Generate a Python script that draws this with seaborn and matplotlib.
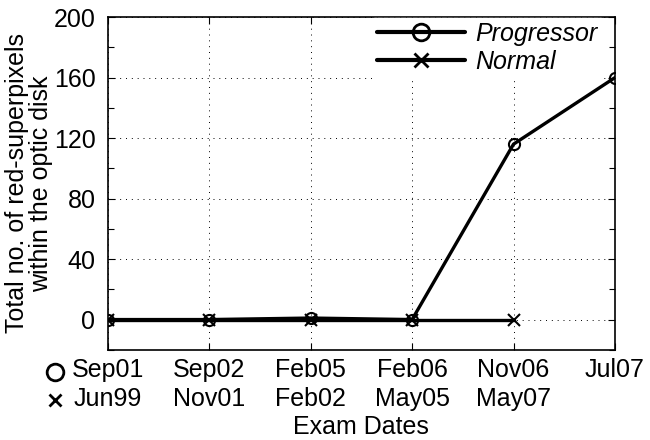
import matplotlib
matplotlib.use("Agg")
import matplotlib.pyplot as plt
import seaborn as sns
import pandas as pd

# data
progressor_dates = ['Sep01', 'Sep02', 'Feb05', 'Feb06', 'Nov06', 'Jul07']
normal_dates = ['Jun99', 'Nov01', 'Feb02', 'May05', 'May07']
progressor_vals = [0, 0, 1, 0, 116, 160]
normal_vals = [0, 0, 0, 0, 0]

sns.set_style("white")
plt.rcParams['font.family'] = ['Liberation Sans', 'DejaVu Sans']
plt.rcParams['text.color'] = 'black'
plt.rcParams['axes.labelcolor'] = 'black'
plt.rcParams['xtick.color'] = 'black'
plt.rcParams['ytick.color'] = 'black'

df = pd.concat([
    pd.DataFrame({'visit': range(len(progressor_vals)), 'count': progressor_vals, 'group': 'Progressor'}),
    pd.DataFrame({'visit': range(len(normal_vals)), 'count': normal_vals, 'group': 'Normal'}),
])

fig = plt.figure(figsize=(6.5, 4.4), dpi=100)
ax = fig.add_axes([0.166, 0.205, 0.78, 0.756])

sns.lineplot(data=df, x='visit', y='count', hue='group', style='group',
             markers={'Progressor': 'o', 'Normal': 'X'}, dashes=False,
             palette={'Progressor': 'black', 'Normal': 'black'},
             linewidth=2.4, markersize=8, markerfacecolor='none',
             markeredgecolor='black', markeredgewidth=1.5, ax=ax, legend=False)
lines = ax.lines
lines[1].set_marker('x')
lines[1].set_markersize(9)

ax.set_xlim(0, 5)
ax.set_ylim(-20, 200)
ax.set_yticks([0, 40, 80, 120, 160, 200])
ax.set_yticks(range(-20, 201, 20), minor=True)
labels = []
for i in range(len(progressor_dates)):
    second = normal_dates[i] if i < len(normal_dates) else ''
    labels.append(progressor_dates[i] + '\n' + second)
ax.set_xticks(range(len(progressor_dates)))
ax.set_xticklabels(labels, fontsize=18, linespacing=1.25)
ax.tick_params(axis='y', labelsize=18, pad=9)
ax.tick_params(axis='x', pad=6)
ax.tick_params(which='both', direction='in', top=True, right=True,
               bottom=True, left=True, length=5, width=0.8)
ax.tick_params(which='minor', length=4)
ax.grid(True, which='major', linestyle=(0, (1, 5)), color='black', linewidth=0.7)
for s in ax.spines.values():
    s.set_color('black')
    s.set_linewidth(1.2)

ax.set_xlabel('Exam Dates', fontsize=18, labelpad=3)
ax.set_ylabel('Total no. of red-superpixels\nwithin the optic disk', fontsize=18,
              linespacing=1.05, labelpad=0)

# markers in front of the two tick label rows
ax.plot([-0.104], [-0.068], marker='o', ms=12, mfc='none', mec='black', mew=2,
        transform=ax.transAxes, clip_on=False, linestyle='none')
ax.plot([-0.104], [-0.150], marker='x', ms=9, mec='black', mew=2,
        transform=ax.transAxes, clip_on=False, linestyle='none')

h_prog = plt.Line2D([], [], color='black', lw=3, marker='o', ms=12, mfc='none', mew=2)
h_norm = plt.Line2D([], [], color='black', lw=3, marker='x', ms=10, mew=2)
leg = ax.legend([h_prog, h_norm], ['Progressor', 'Normal'],
                loc='upper right', bbox_to_anchor=(0.975, 1.0), frameon=True,
                fontsize=18, handlelength=3.5,
                borderaxespad=0.05, labelspacing=0.15, borderpad=0.15, handletextpad=0.4,
                fancybox=False)
leg.get_frame().set_edgecolor('white')
leg.get_frame().set_alpha(1)
for t in leg.get_texts():
    t.set_fontstyle('italic')

fig.savefig('out.png', dpi=100)
